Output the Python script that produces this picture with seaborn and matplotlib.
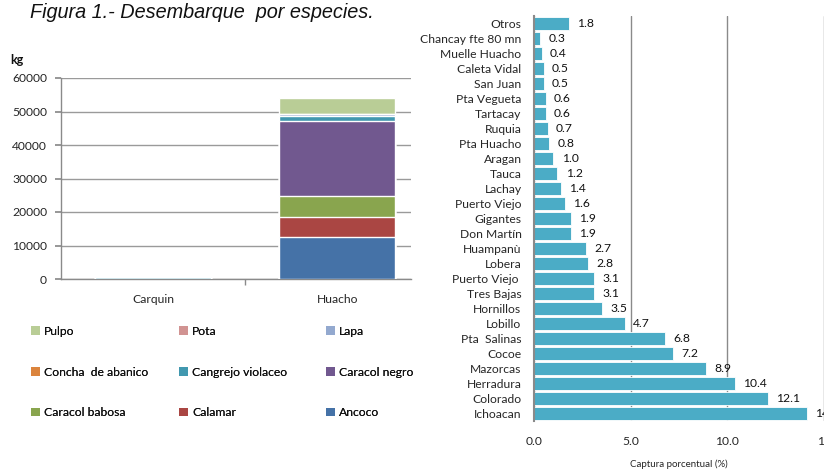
import matplotlib
matplotlib.use("Agg")
import matplotlib.pyplot as plt
from matplotlib.patches import Patch
import numpy as np
import seaborn as sns

# Landings by species and site (kg), stacked from the bottom up
sitios = ["Carquin", "Huacho"]
especies = ["Ancoco", "Calamar", "Caracol babosa", "Caracol negro",
            "Cangrejo violaceo", "Concha  de abanico", "Lapa", "Pota", "Pulpo"]
carquin_kg = [0, 0, 0, 0, 600, 0, 0, 0, 0]
huacho_kg = [12500, 6100, 6200, 22400, 1600, 0, 500, 0, 4800]
colores = ["#4572A7", "#AA4643", "#89A54E", "#71588F", "#4198AF",
           "#DB843D", "#93A9CF", "#D19392", "#B9CD96"]

# Share of catch by fishing zone (%)
zonas = ["Otros", "Chancay fte 80 mn", "Muelle Huacho", "Caleta Vidal", "San Juan",
         "Pta Vegueta", "Tartacay", "Ruquia", "Pta Huacho", "Aragan", "Tauca",
         "Lachay", "Puerto Viejo", "Gigantes", "Don Martín", "Huampanù", "Lobera",
         "Puerto Viejo ", "Tres Bajas", "Hornillos", "Lobillo", "Pta  Salinas",
         "Cocoe", "Mazorcas", "Herradura", "Colorado", "Ichoacan"]
captura_pct = [1.8, 0.3, 0.4, 0.5, 0.5, 0.6, 0.6, 0.7, 0.8, 1.0, 1.2, 1.4, 1.6,
               1.9, 1.9, 2.7, 2.8, 3.1, 3.1, 3.5, 4.7, 6.8, 7.2, 8.9, 10.4,
               12.1, 14.1]
ticks_x = [0, 5, 10, 15]
ticks_y = [0, 10000, 20000, 30000, 40000, 50000, 60000]

sns.set_theme(style="white")
plt.rcParams["font.family"] = ["Lato", "DejaVu Sans"]
plt.rcParams["text.color"] = "#111111"

W, H = 824, 470
fig = plt.figure(figsize=(W / 100, H / 100), dpi=100)

# ---------------- left: stacked landings ----------------
ax1 = fig.add_axes([61 / W, 1 - 279 / H, (411 - 61) / W, (279 - 78) / H])
cum_c = np.cumsum(carquin_kg)
cum_h = np.cumsum(huacho_kg)
# draw cumulative totals from the top layer down so each layer shows its own band
for i in range(len(especies) - 1, -1, -1):
    sns.barplot(x=sitios, y=[cum_c[i], cum_h[i]], color=colores[i],
                saturation=1, width=0.63, errorbar=None, ax=ax1, zorder=3)
ax1.set_xlim(-0.5, 1.40)
ax1.set_ylim(0, 60000)
ax1.set_yticks(ticks_y)
ax1.set_yticklabels([str(t) for t in ticks_y])
ax1.yaxis.grid(True, color="#9a9a9a", linewidth=1.0, zorder=0)
ax1.set_axisbelow(True)
for s in ["top", "right"]:
    ax1.spines[s].set_visible(False)
for s in ["left", "bottom"]:
    ax1.spines[s].set_color("#8a8a8a")
    ax1.spines[s].set_linewidth(1.0)
    ax1.spines[s].set_zorder(1)
ax1.tick_params(axis="y", length=4, color="#8a8a8a", pad=6, labelsize=8.7,
                left=True, direction="out")
ax1.set_xticks([0, 1])
ax1.set_xticks([0.5], minor=True)
ax1.tick_params(axis="x", which="major", length=0, pad=11, labelsize=8.7)
ax1.tick_params(axis="x", which="minor", length=4, color="#8a8a8a",
                bottom=True, direction="out")
ax1.set_xlabel("")
ax1.set_ylabel("")
fig.text(10 / W, 1 - 60 / H, "kg", fontsize=9, fontweight="bold",
         va="center", ha="left")

fig.text(30 / W, 1 - 12 / H, "Figura 1.- Desembarque  por especies.",
         fontsize=14.3, fontstyle="italic", family=["Liberation Sans", "DejaVu Sans"],
         va="center", ha="left")

# legend laid out in three columns, read row by row
orden = ["Pulpo", "Pota", "Lapa",
         "Concha  de abanico", "Cangrejo violaceo", "Caracol negro",
         "Caracol babosa", "Calamar", "Ancoco"]
col_x = [31 / W, 179 / W, 326 / W]
for c in range(3):
    nombres = [orden[r * 3 + c] for r in range(3)]
    handles = [Patch(facecolor=colores[especies.index(n)], edgecolor="none")
               for n in nombres]
    leg = fig.legend(handles, nombres, loc="upper left",
                     bbox_to_anchor=(col_x[c], 1 - 326 / H), frameon=False,
                     fontsize=8.7, handlelength=0.75, handleheight=0.75,
                     handletextpad=0.35, labelspacing=2.45, borderpad=0,
                     borderaxespad=0)
    fig.add_artist(leg)

# ---------------- right: catch share by zone ----------------
ax2 = fig.add_axes([534 / W, 1 - 421 / H, (824 - 534) / W, (421 - 16) / H])
sns.barplot(x=captura_pct, y=zonas, orient="h", color="#4BACC6", saturation=1,
            width=0.92, errorbar=None, edgecolor="white", linewidth=0.6,
            ax=ax2, zorder=3)
ax2.bar_label(ax2.containers[0], fmt="%.1f", padding=6, fontsize=8.7,
              color="#111111")
ax2.set_xlim(0, 15)
ax2.set_xticks(ticks_x)
ax2.set_xticklabels(["0.0", "5.0", "10.0", "15"])
ax2.xaxis.grid(True, color="#8a8a8a", linewidth=1.0, zorder=0)
ax2.set_axisbelow(True)
for s in ["top", "right", "bottom"]:
    ax2.spines[s].set_visible(False)
ax2.spines["left"].set_color("#8a8a8a")
ax2.spines["left"].set_linewidth(1.5)
ax2.spines["left"].set_zorder(4)
ax2.tick_params(axis="y", length=0, pad=9, labelsize=8.7)
ax2.tick_params(axis="x", length=0, pad=11, labelsize=8.7)
ax2.set_ylabel("")
ax2.set_xlabel("Captura porcentual (%)", fontsize=7, labelpad=9)

fig.savefig("out.png", dpi=100)
